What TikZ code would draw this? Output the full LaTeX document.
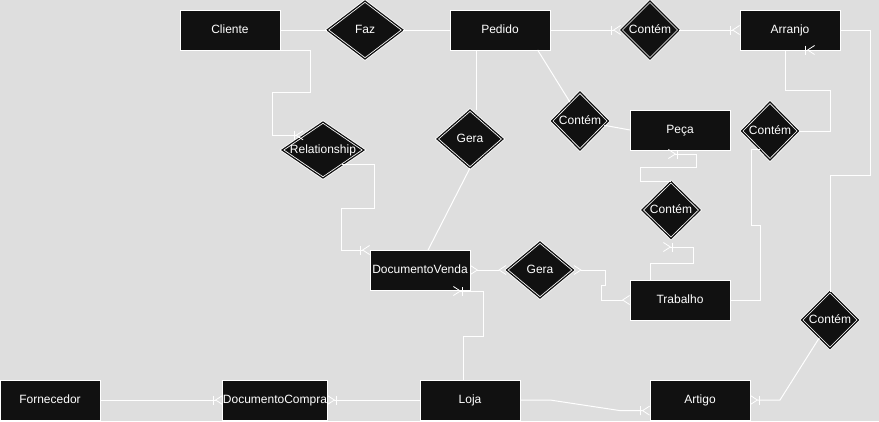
\documentclass[tikz,border=0pt]{standalone}
\usepackage{fontspec}
\setmainfont{Liberation Sans}
\usetikzlibrary{shapes.geometric,arrows.meta}
\definecolor{bg}{HTML}{DEDEDE}
\definecolor{ink}{HTML}{111111}
\tikzset{
  crow/.tip={Straight Barb[reversed,length=7pt,width=9pt,line width=0.8pt]},
  entity/.style={rectangle,draw=white,fill=ink,line width=1pt,minimum width=100pt,minimum height=40pt,inner sep=0pt,outer sep=0pt,text=white,font=\fontsize{12}{14}\selectfont,text height=9pt,text depth=2.5pt},
  rel/.style={diamond,fill=ink,draw=white,double=ink,double distance=1.2pt,line width=0.8pt,inner sep=0pt,outer sep=0pt},
  rtext/.style={text=white,font=\fontsize{12}{14}\selectfont,inner sep=0pt,text height=9pt,text depth=2.5pt},
  conn/.style={draw=white,line width=1pt},
  onemany/.style={-{Bar[width=9pt,line width=0.8pt,sep=1pt]crow}},
  manymany/.style={{crow}-{crow}}
}
\begin{document}
\begin{tikzpicture}[x=1pt,y=-1pt]
\fill[bg] (0,0) rectangle (879,421);
\useasboundingbox (0,0) rectangle (879,421);

% entities
\node[entity] (cliente) at (230,30) {Cliente};
\node[entity] (pedido) at (500,30) {Pedido};
\node[entity] (arranjo) at (790,30) {Arranjo};
\node[entity] (peca) at (680,130) {Peça};
\node[entity] (dv) at (420,270) {DocumentoVenda};
\node[entity] (trabalho) at (680,300) {Trabalho};
\node[entity] (fornecedor) at (50,400) {Fornecedor};
\node[entity] (dc) at (275,400) {DocumentoCompra};
\node[entity] (loja) at (470,400) {Loja};
\node[entity] (artigo) at (700,400) {Artigo};

% relationships
\node[rel,minimum width=76pt,minimum height=58pt,label={[rtext]center:Faz}] (faz) at (365,30) {};
\node[rel,minimum width=58pt,minimum height=58pt,label={[rtext]center:Contém}] (c1) at (650,30) {};
\node[rel,minimum width=82pt,minimum height=56pt,label={[rtext]center:Relationship}] (rel) at (323,150) {};
\node[rel,minimum width=66pt,minimum height=58pt,label={[rtext]center:Gera}] (gera1) at (470,139) {};
\node[rel,minimum width=57pt,minimum height=58pt,label={[rtext]center:Contém}] (c2) at (580,121) {};
\node[rel,minimum width=57pt,minimum height=58pt,label={[rtext]center:Contém}] (c3) at (770,131) {};
\node[rel,minimum width=58pt,minimum height=57pt,label={[rtext]center:Contém}] (c4) at (671,210) {};
\node[rel,minimum width=67pt,minimum height=56pt,label={[rtext]center:Gera}] (gera2) at (540,270) {};
\node[rel,minimum width=57pt,minimum height=57pt,label={[rtext]center:Contém}] (c5) at (830,320) {};

% free ends
\coordinate (pe) at (668,154);
\coordinate (tc) at (663,247);
\coordinate (dvb) at (453,291);
\coordinate (sa) at (805,50);
\coordinate (sb) at (815,50);

% connectors
\draw[conn] (cliente.east) -- (faz.west);
\draw[conn] (faz.east) -- (pedido.west);
\draw[conn,onemany] (pedido.east) -- (c1.west);
\draw[conn,onemany] (c1.east) -- (arranjo.west);
\draw[conn] (arranjo.east) -| (870,175) -| (c5.north);
\draw[conn,onemany] (cliente.south east) -- (310,50) |- (272,92) |- (rel.143);
\draw[conn,onemany] (rel.-38) -| (374,208) -- (341,208) |- (dv.north west);
\draw[conn] (pedido.-140) -- (pedido.-140 |- gera1.north);
\draw[conn] (gera1.south) -- (dv.68);
\draw[conn] (pedido.-28) -- (c2.118);
\draw[conn] (c2.-10) -- (peca.west);
\draw[conn,onemany] (c4.north) -| (640,167) -| (696,154) -- (pe);
\draw[conn,onemany] (trabalho.146) |- (693,263) |- (tc);
\draw[conn,manymany] (gera2.west) -- (dv.east);
\draw[conn,manymany] (gera2.east) -| (605,285) -| (601,300) -- (trabalho.west);
\draw[conn] (c3.east) -| (830,90) -| (arranjo.-104);
\draw[conn] (trabalho.east) -| (760,225) -- (751,225) |- (c3.-118);
\draw[conn,onemany] (fornecedor.east) -- (dc.west);
\draw[conn,onemany] (loja.west) -- (dc.east);
\draw[conn,onemany] (loja.107) |- (483,336) |- (dvb);
\draw[conn,onemany] (loja.east) -- (550,400) -- (620,410.6) -- (artigo.192);
\draw[conn,onemany] (c5.-121) -- (780,400) -- (artigo.east);
\draw[conn,onemany] (sa) -- (sb);
\end{tikzpicture}
\end{document}
